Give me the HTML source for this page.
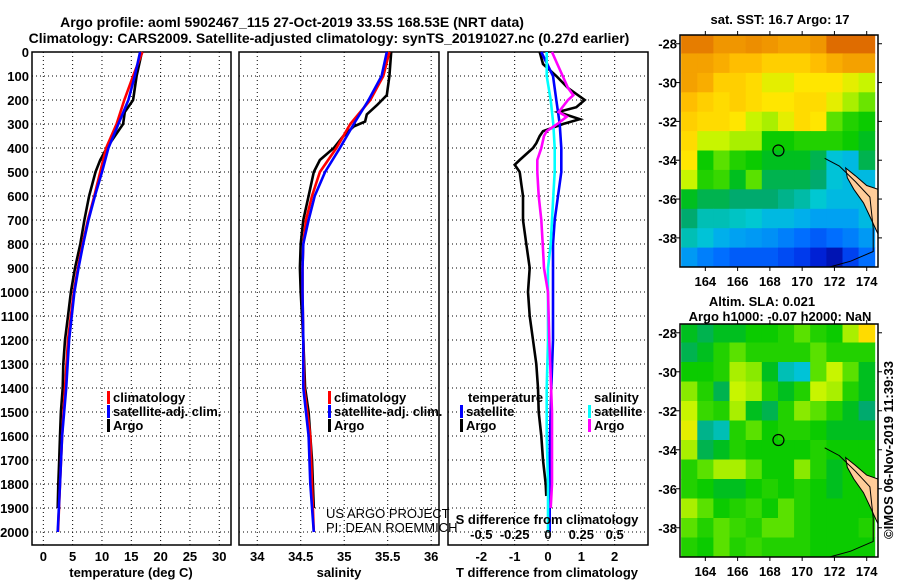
<!DOCTYPE html>
<html><head><meta charset="utf-8">
<style>
html,body{margin:0;padding:0;background:#fff;}
svg{display:block;font-family:"Liberation Sans",sans-serif;}
.b{font-weight:bold;font-size:13px;}
.t{font-weight:bold;font-size:14px;}
</style></head>
<body>
<svg id="fig" width="900" height="580" viewBox="0 0 900 580" xmlns="http://www.w3.org/2000/svg">
<rect x="0" y="0" width="900" height="580" fill="#fff"/>
<text class="t" x="292" y="27" text-anchor="middle">Argo profile: aoml 5902467_115 27-Oct-2019 33.5S 168.53E (NRT data)</text>
<text class="t" x="329" y="43" text-anchor="middle">Climatology: CARS2009. Satellite-adjusted climatology: synTS_20191027.nc (0.27d earlier)</text>
<g id="profiles"></g>
<g id="maps"></g>
<text class="b" transform="translate(893,450) rotate(-90)" text-anchor="middle">©IMOS 06-Nov-2019 11:39:33</text>
</svg>
<script>
// ---------- data ----------
const depthTicks = [0,100,200,300,400,500,600,700,800,900,1000,1100,1200,1300,1400,1500,1600,1700,1800,1900,2000];
const tempTicks = [0,5,10,15,20,25,30];
const salTicks = [34,34.5,35,35.5,36];
const salTickLabels = ["34","34.5","35","35.5","36"];
const dTTicks = [-2,-1,0,1,2];
const dSTicks = [-0.5,-0.25,0,0.25,0.5];
const dSTickLabels = ["-0.5","-0.25","0","0.25","0.5"];

const argoTDepth = [0,100,200,250,300,350,400,450,500,600,700,800,900,1000,1100,1200,1300,1400,1500,1600,1700,1800,1900];
const argoT = [16.8,15.9,15.3,13.9,13.6,12.2,10.8,9.7,8.9,7.8,7.0,6.3,5.4,4.7,4.2,3.7,3.4,3.3,3.0,2.85,2.7,2.55,2.45];
const climDepth = [0,100,200,300,400,500,600,700,800,900,1000,1200,1400,1600,1800,2000];
const climT = [16.9,15.3,13.8,12.5,10.7,9.7,8.7,7.6,6.7,5.9,5.2,4.2,3.7,3.2,2.85,2.5];
const satT = [16.5,15.6,14.5,12.8,11.1,10.0,8.8,7.7,6.8,6.0,5.3,4.4,3.9,3.2,2.85,2.45];

const argoSDepth = [0,100,180,220,260,290,310,350,400,450,500,600,700,800,900,1000,1200,1400,1500,1600,1700,1800,1900];
const argoS = [35.54,35.52,35.49,35.38,35.26,35.24,35.11,34.99,34.88,34.72,34.65,34.59,34.53,34.5,34.49,34.5,34.53,34.55,34.59,34.61,34.63,34.64,34.65];
const climS = [35.52,35.45,35.3,35.07,34.91,34.72,34.63,34.56,34.53,34.52,34.52,34.53,34.54,34.61,34.63,34.65];
const satS = [35.49,35.43,35.28,35.11,34.95,34.78,34.66,34.59,34.53,34.52,34.52,34.53,34.53,34.59,34.61,34.65];

const argoDTDepth = [0,50,100,150,200,230,250,280,300,330,350,380,400,450,470,500,550,600,700,800,900,1000,1100,1200,1300,1400,1500,1600,1700,1800,1850];
const argoDT = [-0.25,-0.15,0.25,0.6,1.1,0.85,0.3,0.95,0.45,-0.15,-0.25,-0.35,-0.45,-0.85,-1.0,-0.85,-0.8,-0.75,-0.75,-0.65,-0.55,-0.6,-0.55,-0.45,-0.35,-0.3,-0.28,-0.2,-0.15,-0.07,-0.05];
const satDT = [-0.2,0.15,0.25,0.35,0.4,0.4,0.3,0.2,0.15,0.15,0.15,0.15,0.1,0.06,0.05,0.05];
const satDS = [-0.01,-0.01,0.02,0.04,0.05,0.05,0.04,0.03,0.02,0.0,0.0,0.0,-0.01,-0.01,0.0,0.0];
const argoDSDepth = [0,50,100,150,180,200,250,270,300,330,350,400,450,500,600,700,800,900,1000,1200,1500,1800,1900];
const argoDS = [0.03,0.07,0.11,0.15,0.19,0.15,0.08,0.14,0.07,-0.01,-0.03,-0.05,-0.08,-0.08,-0.07,-0.05,-0.04,-0.03,0.0,0.01,0.03,0.03,0.02];

// maps: rows lat -28..-39, cols lon 163..174 (colormap index 0..1)
const mapLats = [-28,-29,-30,-31,-32,-33,-34,-35,-36,-37,-38,-39];
const mapLons = [163,164,165,166,167,168,169,170,171,172,173,174];
const sstGrid = [
[0.85,0.85,0.82,0.82,0.83,0.82,0.8,0.8,0.82,0.87,0.87,0.87],
[0.8,0.8,0.78,0.75,0.75,0.72,0.72,0.72,0.75,0.78,0.8,0.8],
[0.8,0.78,0.72,0.72,0.7,0.65,0.65,0.68,0.68,0.68,0.65,0.62],
[0.75,0.72,0.7,0.72,0.7,0.68,0.68,0.7,0.7,0.65,0.6,0.56],
[0.72,0.7,0.7,0.68,0.62,0.6,0.65,0.7,0.68,0.55,0.5,0.48],
[0.7,0.62,0.62,0.6,0.6,0.48,0.48,0.5,0.5,0.5,0.48,0.45],
[0.68,0.48,0.55,0.5,0.48,0.45,0.45,0.45,0.42,0.32,0.3,0.42],
[0.62,0.5,0.52,0.45,0.55,0.42,0.42,0.42,0.4,0.32,0.3,0.3],
[0.45,0.42,0.42,0.4,0.4,0.4,0.38,0.36,0.33,0.3,0.3,0.3],
[0.4,0.35,0.35,0.34,0.33,0.3,0.3,0.28,0.26,0.26,0.26,0.3],
[0.35,0.32,0.28,0.26,0.25,0.24,0.22,0.2,0.18,0.2,0.22,0.25],
[0.25,0.22,0.2,0.18,0.18,0.18,0.16,0.14,0.1,0.06,0.15,0.2]];
const slaGrid = [
[0.45,0.42,0.45,0.45,0.48,0.48,0.5,0.55,0.5,0.48,0.6,0.7],
[0.42,0.45,0.5,0.55,0.5,0.5,0.5,0.5,0.55,0.5,0.5,0.5],
[0.48,0.48,0.5,0.6,0.58,0.45,0.35,0.32,0.55,0.62,0.55,0.45],
[0.58,0.5,0.42,0.62,0.6,0.5,0.45,0.5,0.62,0.6,0.5,0.45],
[0.62,0.52,0.5,0.6,0.45,0.42,0.5,0.58,0.55,0.5,0.45,0.4],
[0.65,0.38,0.35,0.5,0.55,0.48,0.5,0.5,0.48,0.45,0.45,0.45],
[0.6,0.42,0.45,0.5,0.48,0.48,0.48,0.48,0.5,0.48,0.48,0.48],
[0.5,0.55,0.6,0.6,0.55,0.48,0.48,0.58,0.5,0.45,0.48,0.48],
[0.5,0.48,0.45,0.45,0.48,0.5,0.48,0.5,0.48,0.45,0.48,0.48],
[0.6,0.55,0.48,0.5,0.52,0.48,0.55,0.5,0.48,0.48,0.48,0.48],
[0.55,0.5,0.55,0.52,0.5,0.55,0.55,0.5,0.48,0.48,0.48,0.5],
[0.5,0.48,0.55,0.5,0.52,0.5,0.5,0.5,0.48,0.48,0.48,0.48]];
const lonTicks = [164,166,168,170,172,174];
const latTicks = [-28,-30,-32,-34,-36,-38];
const argoLon = 168.53, argoLat = -33.5;
const landLonLat = [[172.7,-34.4],[173.3,-34.8],[174.0,-35.3],[174.7,-35.5],[174.7,-37.8],[174.2,-36.9],[173.8,-36.2],[173.2,-35.5],[172.8,-34.9]];
const coastLonLat = [[171.4,-33.9],[172.3,-34.3],[173.3,-35.1],[174.2,-35.9],[174.4,-37.5],[174.4,-38.7],[173,-39.2],[171.7,-39.5]];

// ---------- drawing ----------
const NS = "http://www.w3.org/2000/svg";
function mk(tag, attrs, parent){const e=document.createElementNS(NS,tag);for(const k in attrs)e.setAttribute(k,attrs[k]);parent.appendChild(e);return e;}
const prof = document.getElementById('profiles');
const TOP=52, BOT=545;
function yD(d){return TOP + d*0.24;}

function panel(name,x0,x1,dom,ticks,labels){
  const sx = v => x0 + (v-dom[0])/(dom[1]-dom[0])*(x1-x0);
  const g = mk('g',{},prof);
  
  
  ticks.forEach(v=>{ const l=mk('line',{x1:sx(v),x2:sx(v),y1:TOP,y2:BOT,stroke:'#000','stroke-width':1,'stroke-dasharray':'1,3'},g);
    
     });
  depthTicks.forEach(d=>{ const l=mk('line',{x1:x0,x2:x1,y1:yD(d),y2:yD(d),stroke:'#000','stroke-width':1,'stroke-dasharray':'1,3'},g);
    
     });
  const r=mk('rect',{x:x0,y:TOP,width:x1-x0,height:BOT-TOP,fill:'none',stroke:'#000','stroke-width':1.5},g);
  
  
  if(labels){ ticks.forEach((v,i)=>{ const t=mk('text',{x:sx(v),y:561,'text-anchor':'middle','class':'b'},g); t.textContent=labels[i];
    
     }); }
  return {g,sx};
}
function line(p,xs,ds,color,name){
  const pts = xs.map((v,i)=>p.sx(v).toFixed(1)+','+yD(ds[i]).toFixed(1)).join(' ');
  const l=mk('polyline',{points:pts,fill:'none',stroke:color,'stroke-width':2.6,'stroke-linejoin':'miter'},p.g);
  
  
}
function legend(g,x,y,color,label){
  const r=mk('rect',{x:x,y:y-11,width:3,height:13,fill:color},g);
  
  
  if(label){const t=mk('text',{x:x+6,y:y,'class':'b'},g); t.textContent=label;
  
  }
}
function txt(g,x,y,s,anchor,cls,name){const t=mk('text',{x:x,y:y,'text-anchor':anchor,'class':cls},g);t.textContent=s;
  
  return t;}

depthTicks.forEach(d=>{ txt(prof,29,yD(d)+5,String(d),'end','b','depth-tick-label'); });

const pT = panel('temperature-panel',32,231,[-1.93,32],tempTicks,tempTicks.map(String));
line(pT,argoT,argoTDepth,'#000','argo-temperature-line');
line(pT,climT,climDepth,'#ff0000','climatology-temperature-line');
line(pT,satT,climDepth,'#0000ff','satellite-temperature-line');
legend(pT.g,107,402,'#ff0000','climatology');
legend(pT.g,107,416,'#0000ff','satellite-adj. clim.');
legend(pT.g,107,430,'#000','Argo');
txt(pT.g,131,577,'temperature (deg C)','middle','b','temperature-axis-title');

const pS = panel('salinity-panel',239,439,[33.79,36.09],salTicks,salTickLabels);
line(pS,argoS,argoSDepth,'#000','argo-salinity-line');
line(pS,climS,climDepth,'#ff0000','climatology-salinity-line');
line(pS,satS,climDepth,'#0000ff','satellite-salinity-line');
legend(pS.g,328,402,'#ff0000','climatology');
legend(pS.g,328,416,'#0000ff','satellite-adj. clim.');
legend(pS.g,328,430,'#000','Argo');
txt(pS.g,339,577,'salinity','middle','b','salinity-axis-title');
const c1=txt(pS.g,326,518,'US ARGO PROJECT','start','','credit-project'); c1.setAttribute('font-size','13');
const c2=txt(pS.g,326,532,'PI: DEAN ROEMMICH','start','','credit-pi'); c2.setAttribute('font-size','13');

const pD = panel('difference-panel',448,648,[-3,3],dTTicks,dTTicks.map(String));
const pDS = {g:pD.g, sx: v => 448 + (v+0.75)/1.5*200};
line(pD,argoDT,argoDTDepth,'#000','argo-temperature-difference-line');
line(pD,satDT,climDepth,'#0000ff','satellite-temperature-difference-line');
line(pDS,satDS,climDepth,'#00ffff','satellite-salinity-difference-line');
line(pDS,argoDS,argoDSDepth,'#ff00ff','argo-salinity-difference-line');
txt(pD.g,468,402,'temperature','start','b','legend-temperature-heading');
legend(pD.g,460,416,'#0000ff','satellite');
legend(pD.g,460,430,'#000','Argo');
txt(pD.g,594,402,'salinity','start','b','legend-salinity-heading');
legend(pD.g,588,416,'#00ffff','satellite');
legend(pD.g,588,430,'#ff00ff','Argo');
txt(pD.g,547,524,'S difference from climatology','middle','b','s-difference-axis-title');
dSTicks.forEach((v,i)=>{ txt(pD.g,pDS.sx(v),539,dSTickLabels[i],'middle','b','s-tick-label'); });
txt(pD.g,547,577,'T difference from climatology','middle','b','t-difference-axis-title');

// ---------- maps ----------
const maps = document.getElementById('maps');
const cmapStops = [[0,[0,0,128]],[0.12,[0,40,230]],[0.2,[0,110,255]],[0.27,[0,170,240]],[0.33,[0,200,210]],[0.4,[0,170,110]],[0.47,[0,200,0]],[0.55,[90,225,0]],[0.62,[200,245,0]],[0.68,[255,230,0]],[0.75,[255,190,0]],[0.82,[240,150,0]],[0.88,[220,100,0]],[0.95,[190,30,0]],[1,[150,0,0]]];
function cmap(v){
  for(let i=1;i<cmapStops.length;i++){ if(v<=cmapStops[i][0]){ const a=cmapStops[i-1],b=cmapStops[i]; const f=(v-a[0])/(b[0]-a[0]);
    const c=a[1].map((x,k)=>Math.round(x+(b[1][k]-x)*f)); return 'rgb('+c.join(',')+')'; } }
  return 'rgb(150,0,0)';
}
function drawMap(name,y0,y1,grid,titles){
  const x0=680,x1=878;
  const lonMin=162.43,lonMax=174.7,latTop=-27.55,latBot=-39.5;
  const sx = lon => x0+(lon-lonMin)/(lonMax-lonMin)*(x1-x0);
  const sy = lat => y0+(latTop-lat)/(latTop-latBot)*(y1-y0);
  const g=mk('g',{},maps);
  
  
  const clip='clip-'+name;
  const cp=mk('clipPath',{id:clip},g); mk('rect',{x:x0,y:y0,width:x1-x0,height:y1-y0},cp);
  const cg=mk('g',{'clip-path':'url(#'+clip+')'},g);
  grid.forEach((row,r)=>row.forEach((v,c)=>{
    const xa=sx(mapLons[c]-0.5), xb=sx(mapLons[c]+0.5), ya=sy(mapLats[r]+0.5), yb=sy(mapLats[r]-0.5);
    const cell=mk('rect',{x:xa.toFixed(1),y:ya.toFixed(1),width:(xb-xa+0.5).toFixed(1),height:(yb-ya+0.5).toFixed(1),fill:cmap(v)},cg);
    
    
  }));
  const land=mk('polygon',{points:landLonLat.map(p=>sx(p[0]).toFixed(1)+','+sy(p[1]).toFixed(1)).join(' '),fill:'#ffcc99',stroke:'#000','stroke-width':1},cg);
  
  
  const coast=mk('polyline',{points:coastLonLat.map(p=>sx(p[0]).toFixed(1)+','+sy(p[1]).toFixed(1)).join(' '),fill:'none',stroke:'#000','stroke-width':1},cg);
  
  
  const mark=mk('circle',{cx:sx(argoLon),cy:sy(argoLat),r:5.5,fill:'none',stroke:'#000','stroke-width':1.2},g);
  
  
  const fr=mk('rect',{x:x0,y:y0,width:x1-x0,height:y1-y0,fill:'none',stroke:'#000','stroke-width':1.5},g);
  
  
  lonTicks.forEach(l=>{ mk('line',{x1:sx(l),x2:sx(l),y1:y0-4,y2:y0,stroke:'#000'},g); mk('line',{x1:sx(l),x2:sx(l),y1:y1,y2:y1+4,stroke:'#000'},g);
    txt(g,sx(l),y1+19,String(l),'middle','b','longitude-tick-label'); });
  latTicks.forEach(l=>{ mk('line',{x1:x0-4,x2:x0,y1:sy(l),y2:sy(l),stroke:'#000'},g); mk('line',{x1:x1,x2:x1+4,y1:sy(l),y2:sy(l),stroke:'#000'},g);
    txt(g,677,sy(l)+5,String(l),'end','b','latitude-tick-label'); });
  titles.forEach((t,i)=>txt(g,t[1],t[2],t[0],'middle','b','map-title'));
}
drawMap('sst-map',35,267,sstGrid,[['sat. SST: 16.7 Argo: 17',780,24]]);
drawMap('sla-map',324,557,slaGrid,[['Altim. SLA: 0.021',762,306],['Argo h1000: -0.07 h2000: NaN',780,321]]);
</script>
</body></html>
